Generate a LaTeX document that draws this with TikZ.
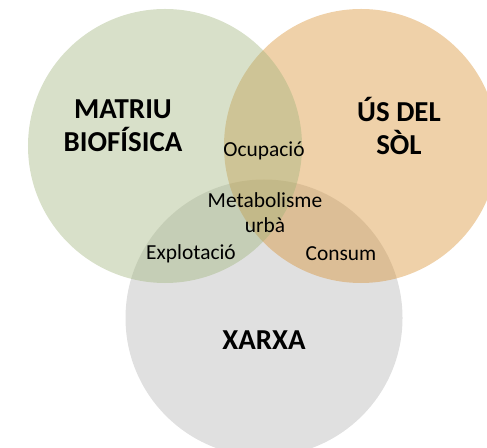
\documentclass[tikz,border=0pt]{standalone}
\usepackage{fontspec}
\setmainfont{Carlito}
\usepackage{tikz}
\usetikzlibrary{positioning}
\definecolor{sage}{RGB}{158,178,120}
\definecolor{sand}{RGB}{215,140,40}
\definecolor{ash}{RGB}{178,178,178}

\begin{document}
\begin{tikzpicture}[
    x=1bp,
    y=-1bp,
    set/.style={
        circle,
        minimum size=274bp,
        fill opacity=0.4,
        inner sep=0pt
    },
    title/.style={
        font=\fontsize{29}{33}\selectfont\bfseries,
        align=center
    },
    part/.style={
        font=\fontsize{21.5}{25}\selectfont,
        align=center
    }
]
\useasboundingbox (0,0) rectangle (487,448);

\node[set, fill=ash, minimum size=277bp] (xarxa) at (264,318) {};
\node[set, fill=sand] (us) at (361,146) {};
\node[set, fill=sage] (matriu) at (165,146) {};

\node[title] (tmatriu) at (123,126) {MATRIU\\BIOFÍSICA};
\node[title] (tus) at (399,126) {ÚS DEL\\SÒL};
\node[title] (txarxa) at (264,340) {XARXA};

\node[part] (ocupacio) at (264,151) {Ocupació};
\node[part] (metab) at (265,213) {Metabolisme\\urbà};
\node[part] (explot) at (191,254) {Explotació};
\node[part] (consum) at (341,254) {Consum};

\end{tikzpicture}
\end{document}
